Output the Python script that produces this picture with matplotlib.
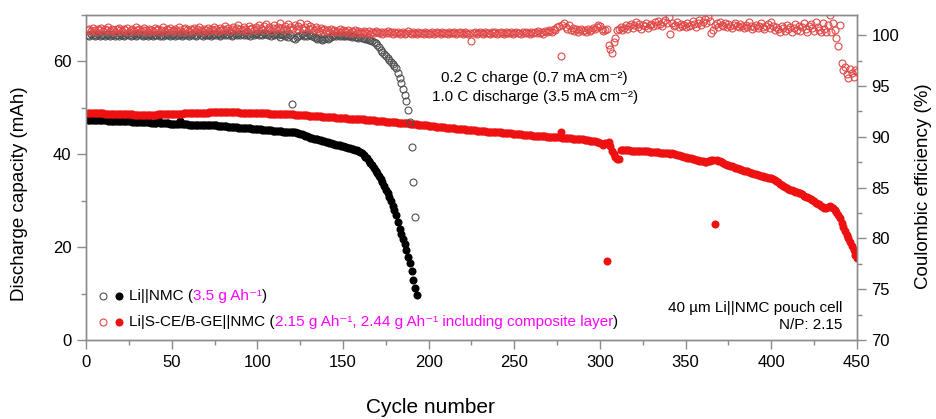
import numpy as np
import matplotlib
matplotlib.use("Agg")
import matplotlib.pyplot as plt
from matplotlib.offsetbox import TextArea, HPacker, AnchoredOffsetbox
from matplotlib.ticker import MultipleLocator

plt.rcParams["font.family"] = ["Liberation Sans", "DejaVu Sans"]

# ---------------- data ----------------
# Li||NMC: discharge capacity (mAh), cycles 1..193
cap_ref = [
    47.4, 47.4, 47.4, 47.4, 47.3, 47.3, 47.3, 47.3, 47.3, 47.3,
    47.3, 47.3, 47.2, 47.2, 47.2, 47.2, 47.2, 47.2, 47.2, 47.2,
    47.1, 47.1, 47.1, 47.1, 47.1, 47.1, 47.0, 47.0, 47.0, 47.0,
    47.0, 46.9, 46.9, 46.9, 46.9, 46.9, 46.9, 46.8, 46.8, 46.8,
    46.8, 47.6, 46.8, 46.8, 46.7, 46.7, 46.7, 46.7, 46.6, 46.6,
    46.6, 46.6, 46.6, 46.6, 47.2, 46.5, 46.5, 46.5, 46.5, 46.4,
    46.4, 46.4, 46.4, 46.4, 46.3, 46.3, 46.3, 46.3, 46.3, 46.3,
    46.2, 46.2, 46.2, 46.2, 46.2, 46.2, 46.1, 46.1, 46.1, 46.0,
    46.0, 46.0, 45.9, 45.9, 45.9, 45.8, 45.8, 45.8, 45.7, 45.7,
    45.7, 45.7, 45.6, 45.6, 45.6, 45.6, 45.5, 45.5, 45.5, 45.5,
    45.4, 45.4, 45.3, 45.3, 45.3, 45.2, 45.2, 45.2, 45.1, 45.1,
    45.1, 45.0, 45.0, 45.0, 44.9, 44.9, 44.9, 44.9, 44.8, 44.8,
    44.8, 44.7, 44.6, 44.5, 44.4, 44.3, 44.2, 44.0, 43.9, 43.8,
    43.6, 43.5, 43.4, 43.3, 43.2, 43.1, 43.0, 42.9, 42.8, 42.7,
    42.6, 42.5, 42.4, 42.3, 42.2, 42.1, 42.0, 41.9, 41.8, 41.7,
    41.6, 41.5, 41.4, 41.3, 41.2, 41.1, 41.0, 40.9, 40.7, 40.5,
    40.2, 39.9, 39.5, 39.1, 38.6, 38.1, 37.6, 37.0, 36.5, 35.9,
    35.3, 34.7, 34.0, 33.2, 32.4, 31.6, 30.8, 29.9, 28.9, 28.0,
    26.9, 25.5, 24.0, 22.8, 21.8, 20.7, 19.4, 17.9, 16.5, 14.8,
    13.0, 11.3, 9.7,
]

# Li||NMC: coulombic efficiency (%), cycles 1..192
ce_ref = [
    100.0, 99.9, 100.1, 100.0, 99.9, 100.0, 100.1, 99.9, 100.0, 100.0,
    99.9, 100.1, 100.0, 99.9, 100.0, 100.1, 99.9, 100.0, 99.9, 100.1,
    100.0, 99.9, 100.0, 100.1, 100.0, 99.9, 100.0, 100.1, 99.9, 100.0,
    100.1, 100.0, 99.9, 100.0, 100.0, 99.9, 100.1, 100.0, 99.9, 100.0,
    100.0, 100.1, 99.9, 100.0, 99.9, 100.0, 100.1, 100.0, 99.9, 100.0,
    100.1, 99.9, 100.0, 100.0, 100.1, 99.9, 100.0, 100.1, 100.0, 99.9,
    100.0, 100.1, 100.0, 99.9, 100.0, 100.2, 100.0, 99.9, 100.1, 100.0,
    100.0, 100.1, 99.9, 100.0, 100.1, 100.0, 100.1, 99.9, 100.0, 100.1,
    100.0, 100.1, 100.0, 100.2, 99.9, 100.0, 100.1, 100.0, 100.1, 100.0,
    100.1, 100.0, 100.2, 100.0, 100.1, 99.9, 100.1, 100.0, 100.1, 100.2,
    100.0, 100.1, 100.0, 100.2, 100.1, 100.0, 100.1, 99.9, 100.1, 100.0,
    100.1, 100.0, 99.8, 100.1, 100.0, 99.9, 100.1, 99.8, 100.0, 93.2,
    99.7, 99.6, 99.8, 99.9, 100.0, 100.1, 99.9, 100.0, 99.9, 100.1,
    100.0, 99.9, 99.8, 99.7, 99.6, 99.7, 99.6, 99.5, 99.6, 99.7,
    99.6, 99.7, 99.8, 99.9, 100.0, 99.9, 100.0, 99.9, 100.0, 99.9,
    99.9, 100.0, 99.9, 99.9, 99.8, 99.9, 99.8, 99.8, 99.7, 99.8,
    99.7, 99.7, 99.6, 99.6, 99.5, 99.5, 99.4, 99.3, 99.2, 99.0,
    98.8, 98.6, 98.4, 98.2, 98.0, 97.8, 97.6, 97.4, 97.2, 97.0,
    96.8, 96.3, 95.8, 95.3, 94.7, 94.1, 93.5, 92.6, 91.5, 89.0,
    85.6, 82.1,
]

# Li|S-CE/B-GE||NMC: discharge capacity (mAh), cycles 1..450
cap_new = [
    48.9, 48.9, 48.9, 48.8, 48.8, 48.8, 48.8, 48.8, 48.8, 48.8,
    48.7, 48.7, 48.7, 48.7, 48.7, 48.7, 48.7, 48.7, 48.7, 48.7,
    48.6, 48.6, 48.6, 48.6, 48.6, 48.6, 48.6, 48.5, 48.5, 48.5,
    48.5, 48.5, 48.5, 48.5, 48.5, 48.5, 48.5, 48.5, 48.5, 48.5,
    48.5, 48.6, 48.6, 48.6, 48.6, 48.6, 48.6, 48.6, 48.6, 48.6,
    48.7, 48.7, 48.7, 48.7, 48.7, 48.7, 48.8, 48.8, 48.8, 48.8,
    48.8, 48.8, 48.8, 48.9, 48.9, 48.9, 48.9, 48.9, 48.9, 48.9,
    48.9, 49.0, 49.0, 49.0, 49.0, 49.0, 49.0, 49.0, 49.0, 49.0,
    49.0, 49.0, 49.0, 49.0, 49.0, 49.0, 49.0, 49.0, 49.0, 48.9,
    48.9, 48.9, 48.9, 48.9, 48.9, 48.9, 48.9, 48.9, 48.8, 48.8,
    48.8, 48.8, 48.8, 48.8, 48.8, 48.8, 48.7, 48.7, 48.7, 48.7,
    48.7, 48.7, 48.7, 48.7, 48.7, 48.7, 48.6, 48.6, 48.6, 48.6,
    48.6, 48.5, 48.5, 48.5, 48.5, 48.4, 48.4, 48.4, 48.4, 48.3,
    48.3, 48.3, 48.3, 48.2, 48.2, 48.2, 48.2, 48.1, 48.1, 48.1,
    48.1, 48.0, 48.0, 48.0, 48.0, 47.9, 47.9, 47.9, 47.9, 47.8,
    47.8, 47.8, 47.7, 47.7, 47.7, 47.7, 47.6, 47.6, 47.6, 47.5,
    47.5, 47.5, 47.4, 47.4, 47.4, 47.3, 47.3, 47.3, 47.2, 47.2,
    47.2, 47.1, 47.1, 47.1, 47.0, 47.0, 47.0, 46.9, 46.9, 46.9,
    46.9, 46.8, 46.8, 46.8, 46.7, 46.7, 46.7, 46.7, 46.6, 46.6,
    46.6, 46.5, 46.5, 46.4, 46.4, 46.3, 46.3, 46.2, 46.2, 46.1,
    46.1, 46.0, 46.0, 45.9, 45.9, 45.9, 45.8, 45.8, 45.8, 45.7,
    45.7, 45.7, 45.6, 45.6, 45.6, 45.5, 45.5, 45.5, 45.4, 45.4,
    45.4, 45.3, 45.3, 45.3, 45.2, 45.2, 45.2, 45.1, 45.1, 45.1,
    45.0, 45.0, 45.0, 44.9, 44.9, 44.9, 44.8, 44.8, 44.8, 44.7,
    44.7, 44.7, 44.6, 44.6, 44.6, 44.5, 44.5, 44.5, 44.4, 44.4,
    44.4, 44.3, 44.3, 44.3, 44.2, 44.2, 44.2, 44.1, 44.1, 44.1,
    44.0, 44.0, 44.0, 44.0, 43.9, 43.9, 43.9, 43.9, 43.8, 43.8,
    43.8, 43.8, 43.7, 43.7, 43.7, 43.7, 44.7, 43.6, 43.6, 43.6,
    43.5, 43.5, 43.5, 43.4, 43.4, 43.4, 43.3, 43.3, 43.3, 43.2,
    43.1, 43.0, 43.0, 42.9, 42.9, 42.8, 42.8, 42.7, 42.6, 42.5,
    42.3, 41.9, 42.4, 17.0, 42.6, 41.8, 40.8, 40.0, 39.4, 39.0,
    38.9, 40.9, 40.9, 41.0, 40.9, 40.9, 40.9, 40.8, 40.8, 40.8,
    40.8, 40.8, 40.7, 40.7, 40.7, 40.6, 40.6, 40.6, 40.5, 40.5,
    40.5, 40.4, 40.4, 40.4, 40.3, 40.3, 40.3, 40.2, 40.2, 40.2,
    40.1, 40.2, 40.1, 40.0, 39.9, 39.8, 39.7, 39.6, 39.5, 39.4,
    39.3, 39.2, 39.1, 39.0, 38.9, 38.8, 38.7, 38.6, 38.5, 38.5,
    38.4, 38.4, 38.5, 38.6, 38.8, 38.8, 24.9, 38.7, 38.6, 38.5,
    38.3, 38.1, 37.9, 37.8, 37.7, 37.5, 37.4, 37.3, 37.1, 37.0,
    36.9, 36.8, 36.6, 36.5, 36.4, 36.3, 36.1, 36.0, 35.9, 35.8,
    35.7, 35.6, 35.5, 35.4, 35.3, 35.2, 35.1, 35.0, 35.0, 34.9,
    34.7, 34.5, 34.2, 34.0, 33.7, 33.4, 33.1, 32.9, 32.7, 32.5,
    32.4, 32.2, 32.1, 31.9, 31.8, 31.6, 31.6, 31.4, 31.1, 30.9,
    30.7, 30.5, 30.3, 30.1, 29.9, 29.6, 29.4, 29.2, 28.9, 28.7,
    28.5, 28.4, 28.6, 28.8, 28.7, 28.4, 28.1, 27.6, 27.0, 26.2,
    25.3, 24.3, 23.5, 22.7, 22.0, 21.1, 20.3, 19.4, 18.4, 17.6,
]

# Li|S-CE/B-GE||NMC: coulombic efficiency (%), cycles 1..450
ce_new = [
    100.5, 100.6, 100.4, 100.7, 100.5, 100.3, 100.6, 100.5, 100.7, 100.4,
    100.6, 100.5, 100.8, 100.4, 100.6, 100.5, 100.3, 100.6, 100.7, 100.5,
    100.4, 100.6, 100.5, 100.7, 100.3, 100.5, 100.6, 100.4, 100.8, 100.5,
    100.6, 100.4, 100.5, 100.7, 100.5, 100.3, 100.6, 100.5, 100.4, 100.7,
    100.5, 100.6, 100.3, 100.5, 100.8, 100.4, 100.6, 100.5, 100.7, 100.4,
    100.5, 100.6, 100.4, 100.8, 100.5, 100.3, 100.6, 100.7, 100.5, 100.4,
    100.6, 100.5, 100.7, 100.4, 100.6, 100.8, 100.5, 100.3, 100.6, 100.5,
    100.7, 100.4, 100.6, 100.5, 100.8, 100.6, 100.4, 100.7, 100.5, 100.6,
    100.9, 100.5, 100.7, 100.4, 100.6, 100.8, 100.5, 100.7, 101.0, 100.6,
    100.5, 100.8, 100.6, 100.4, 100.9, 100.6, 100.7, 100.5, 100.8, 100.6,
    101.0, 100.7, 100.5, 100.9, 101.1, 100.6, 100.8, 100.4, 100.7, 101.0,
    100.6, 100.8, 101.2, 100.7, 100.5, 100.9, 100.6, 101.1, 100.8, 100.5,
    100.7, 101.0, 100.6, 100.9, 101.2, 100.7, 100.5, 100.8, 101.1, 100.6,
    100.9, 100.7, 100.5, 100.8, 100.6, 100.4, 100.7, 100.5, 100.6, 100.4,
    100.5, 100.3, 100.6, 100.4, 100.5, 100.3, 100.4, 100.6, 100.3, 100.5,
    100.4, 100.3, 100.5, 100.2, 100.4, 100.3, 100.5, 100.2, 100.4, 100.3,
    100.2, 100.4, 100.3, 100.2, 100.4, 100.1, 100.3, 100.2, 100.4, 100.3,
    100.2, 100.3, 100.1, 100.3, 100.2, 100.4, 100.2, 100.3, 100.1, 100.3,
    100.2, 100.3, 100.1, 100.2, 100.3, 100.1, 100.2, 100.4, 100.2, 100.1,
    100.3, 100.2, 100.1, 100.3, 100.2, 100.2, 100.1, 100.3, 100.2, 100.1,
    100.2, 100.3, 100.1, 100.2, 100.3, 100.2, 100.1, 100.3, 100.2, 100.2,
    100.1, 100.3, 100.2, 100.2, 100.3, 100.1, 100.2, 100.3, 100.2, 100.1,
    100.3, 100.2, 100.1, 100.2, 99.4, 100.2, 100.3, 100.1, 100.2, 100.3,
    100.2, 100.1, 100.3, 100.2, 100.2, 100.1, 100.3, 100.2, 100.3, 100.1,
    100.2, 100.3, 100.2, 100.1, 100.3, 100.2, 100.2, 100.3, 100.1, 100.2,
    100.3, 100.2, 100.2, 100.1, 100.3, 100.2, 100.3, 100.2, 100.1, 100.3,
    100.2, 100.3, 100.2, 100.4, 100.2, 100.3, 100.1, 100.4, 100.3, 100.5,
    100.4, 100.3, 100.6, 100.5, 100.8, 100.9, 98.0, 101.0, 101.2, 100.8,
    100.6, 101.0, 100.5, 100.7, 100.4, 100.6, 100.3, 100.5, 100.6, 100.4,
    100.5, 100.3, 100.6, 100.4, 100.5, 100.7, 100.6, 100.8, 101.0, 100.9,
    100.6, 100.4, 100.5, 100.6, 99.0, 98.7, 98.3, 99.3, 99.7, 100.5,
    100.6, 100.8, 100.5, 100.7, 101.0, 100.6, 100.9, 101.1, 100.7, 101.0,
    101.3, 100.8, 101.1, 100.6, 101.0, 100.9, 101.2, 100.7, 101.0, 101.1,
    100.9, 101.3, 101.0, 101.4, 101.1, 100.9, 101.3, 101.5, 101.2, 101.8,
    100.1, 101.2, 100.9, 101.0, 101.3, 100.8, 101.1, 100.9, 101.0, 100.8,
    101.2, 100.9, 101.0, 101.4, 101.1, 100.8, 101.2, 101.5, 101.0, 101.3,
    101.6, 101.2, 101.8, 101.4, 100.2, 100.5, 101.0, 101.2, 100.8, 101.3,
    101.0, 100.9, 101.2, 100.8, 101.1, 100.9, 100.7, 101.0, 101.2, 100.9,
    100.8, 101.1, 100.9, 100.7, 101.0, 100.8, 101.3, 100.9, 100.6, 100.8,
    101.0, 100.7, 100.9, 101.2, 100.8, 100.6, 100.9, 101.1, 100.7, 101.3,
    100.9, 100.5, 100.8, 100.6, 100.3, 100.9, 100.7, 100.4, 101.0, 100.6,
    100.8, 100.3, 100.7, 101.1, 100.5, 100.9, 100.4, 100.8, 101.2, 100.6,
    100.3, 100.9, 101.1, 100.7, 100.4, 101.3, 100.8, 100.5, 100.3, 101.2,
    100.6, 100.3, 101.0, 102.0, 100.3, 101.2, 100.5, 99.7, 98.9, 101.0,
    97.3, 96.6, 96.9, 96.2, 95.8, 96.7, 96.3, 95.9, 96.6, 96.4,
]

cyc_cap_ref = np.arange(1, len(cap_ref) + 1)
cyc_ce_ref = np.arange(1, len(ce_ref) + 1)
cyc_cap_new = np.arange(1, len(cap_new) + 1)
cyc_ce_new = np.arange(1, len(ce_new) + 1)

# ---------------- figure ----------------
W, H = 937, 419
fig = plt.figure(figsize=(W / 100, H / 100), dpi=100)
L, R, B, T = 86, 857, 340, 15
ax = fig.add_axes([L / W, (H - B) / H, (R - L) / W, (B - T) / H])
ax2 = ax.twinx()

RED = "#ee1111"
RED_OPEN = "#e04848"
GREY_OPEN = "#505050"
SPINE = "#8c8c8c"
MAGENTA = "#ff00ff"
FS_TXT = 11

ax.plot(cyc_cap_ref, cap_ref, "o", ms=5.8, mew=0, color="black", zorder=3)
ax.plot(cyc_cap_new, cap_new, "o", ms=5.8, mew=0, color=RED, zorder=4)

ax2.plot(cyc_ce_ref, ce_ref, "o", ms=5.0, mfc="none", mec=GREY_OPEN, mew=0.8, zorder=3)
ax2.plot(cyc_ce_new, ce_new, "o", ms=5.0, mfc="none", mec=RED_OPEN, mew=0.8, zorder=4)

ax.set_xlim(0, 450)
ax.set_ylim(0, 70)
ax2.set_ylim(70, 102)

ax.xaxis.set_major_locator(MultipleLocator(50))
ax.xaxis.set_minor_locator(MultipleLocator(25))
ax.yaxis.set_major_locator(MultipleLocator(20))
ax.yaxis.set_minor_locator(MultipleLocator(10))
ax2.yaxis.set_major_locator(MultipleLocator(5))
ax2.yaxis.set_minor_locator(MultipleLocator(2.5))

for a in (ax, ax2):
    for s in a.spines.values():
        s.set_color(SPINE)
        s.set_linewidth(1.0)
    a.tick_params(which="major", direction="out", length=6.5, width=1.0,
                  color=SPINE, labelsize=12, labelcolor="black", pad=4)
    a.tick_params(which="minor", direction="out", length=3.5, width=1.0,
                  color=SPINE)
ax.tick_params(axis="y", right=False)
ax2.tick_params(axis="y", left=False)

ax.set_xlabel("Cycle number", fontsize=15)
ax.set_ylabel("Discharge capacity (mAh)", fontsize=13.5)
ax2.set_ylabel("Coulombic efficiency (%)", fontsize=13.5)
ax.xaxis.set_label_coords(0.447, -0.178)
ax.yaxis.set_label_coords(-0.075, 0.449)
ax2.yaxis.set_label_coords(1.075, 0.474)

# test conditions
ax.text(0.582, 0.806, "0.2 C charge (0.7 mA cm\u207b\u00b2)", transform=ax.transAxes,
        ha="center", va="center", fontsize=FS_TXT)
ax.text(0.582, 0.749, "1.0 C discharge (3.5 mA cm\u207b\u00b2)", transform=ax.transAxes,
        ha="center", va="center", fontsize=FS_TXT)

# cell description
ax.text(0.9805, 0.098, "40 µm Li||NMC pouch cell", transform=ax.transAxes,
        ha="right", va="center", fontsize=FS_TXT)
ax.text(0.9805, 0.046, "N/P: 2.15", transform=ax.transAxes,
        ha="right", va="center", fontsize=FS_TXT)

# legend: open circle = CE, filled circle = capacity
rows = [
    (0.135, GREY_OPEN, "black",
     [("Li||NMC (", "black"), ("3.5 g Ah\u207b\u00b9", MAGENTA), (")", "black")]),
    (0.056, RED_OPEN, RED,
     [("Li|S-CE/B-GE||NMC (", "black"),
      ("2.15 g Ah\u207b\u00b9, 2.44 g Ah\u207b\u00b9 including composite layer", MAGENTA),
      (")", "black")]),
]
for y, c_open, c_fill, parts in rows:
    ax.plot([0.022], [y], "o", ms=5.0, mfc="none", mec=c_open, mew=0.8,
            transform=ax.transAxes, clip_on=False, zorder=6)
    ax.plot([0.043], [y], "o", ms=5.8, mew=0, color=c_fill,
            transform=ax.transAxes, clip_on=False, zorder=6)
    boxes = [TextArea(t, textprops=dict(color=c, fontsize=FS_TXT)) for t, c in parts]
    pack = HPacker(children=boxes, align="baseline", pad=0, sep=0)
    anch = AnchoredOffsetbox(loc="center left", child=pack, pad=0, borderpad=0,
                             frameon=False, bbox_to_anchor=(0.056, y),
                             bbox_transform=ax.transAxes)
    ax.add_artist(anch)

fig.savefig("out.png", dpi=100)
